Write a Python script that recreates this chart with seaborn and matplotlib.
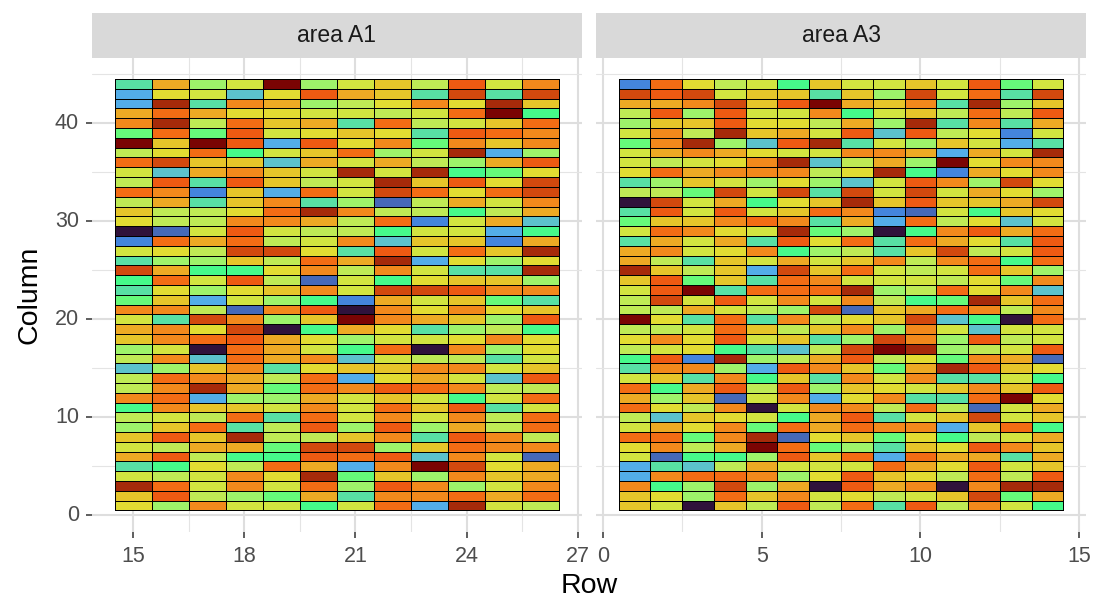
import matplotlib
matplotlib.use("Agg")
import matplotlib.pyplot as plt
from matplotlib.colors import ListedColormap
import pandas as pd
import seaborn as sns

# letters are colour levels, low to high
level_order = "abBcdefghijklmnopqrs"
level_colors = ["#30123B", "#4669B8", "#4485DD", "#53ADE8", "#5CC2CC", "#58E0A4", "#46FA8A",
                "#66FA7A", "#9EF36A", "#BFEA55", "#D2E440", "#E2DC32", "#E6C52A", "#EDAA24",
                "#F2891C", "#F36C14", "#EE5A12", "#D2490E", "#A62A0A", "#7A0403"]
levels = {c: i for i, c in enumerate(level_order)}

columns_y = list(range(44, 0, -1))
rows_a1 = list(range(15, 27))
rows_a3 = list(range(1, 15))

# each entry is one Column value (44 down to 1), one letter per Row
a1_left = ["emhjsh","ckjdkp","crenmh","momkkj","nriolm","gogpjk","slspcp","ikofjl","oqlldm","jdmnlj",
           "ipepli","onBlco","imelne","liikor","kiinnm","abjpji","Bomoij","jkiqqk","ehhlio","qmffkn",
           "fojpib","ekhkln","glcjhf","nnibnp","jeqnhl","mnkqaf","lnopmk","hjaomj","indomn","dhlnek",
           "ionmio","inrmgo","nochhm","fnlljn","ijioeo","hloeip","lplrii","jimmgq","mpiffp","efkiom",
           "jijnkr","rojnjo","lpihgm","khnjjf"]
a1_right = ["jlipjn","mleqeq","iknkrl","jijosf","eoijlo","lkepon","kngnln","ohjrch","jmihmp","rjrfgk",
            "jrlpkq","jqokoq","hbimjn","niifim","ioBjmd","ifjjcf","ndllBm","epjolr","mrckhk","injeer",
            "jfkllh","jqqpnn","Bmjlge","anknkl","snmlhp","mkehif","hjjknk","foanhk","djiiej","llnnjl",
            "ckmjdp","nponii","jljfjo","jolpej","jnjnio","hphmio","lnepni","qhlonn","opdnjb","cnsqkm",
            "glhnlm","hpnhjn","ennomo","jocrji"]
a3_left = ["Bokijfl","qpqjlle","mmnqlps","iphpjjn","hllpkki","jnirlmj","gnrhdpr","jmnmkjj","jijknrd","komnnni",
           "ehljhkh","iigqjqe","aqjmfkl","epjpjlo","gllnone","jonkjrg","emjmepk","mnjknfh","mieljmj","rlilcql",
           "lpgleon","jpseooo","iqjpjnj","iimjihq","skeoeni","iijolil","knkpjle","ijkfedi","fpBrhim","ennhcpn",
           "jlenfle","ofmpiph","mhlbjnc","okinajn","idlkjfm","jmkngom","oognrbk","knimsog","jbffhpl","cedimjj",
           "cnoonhk","nfhqhma","lkholnj","ljalipi"]
a3_right = ["jjljpgj","lhqjoeq","mlnerhl","fjlioip","mhrenem","pdpikBj","ejhljce","nnmcmjr","imhsknn","krfBmkn",
            "djpnhqk","qjqjmkh","rlpllmq","nBbjflk","mcoikdj","hafnpmo","oeomkep","ielqijp","lninofo","ojijolh",
            "jjjikgn","rhioknd","nifgrlo","blmonin","klqdfao","nhnjdjj","hqnhpij","qsrhijp","pikgnmb","lgmrplk",
            "njneejf","lkjlnlp","kneeosk","nioibjm","pejlqjl","onnclof","lgkfijm","helkpnl","ocommem","jomkpjl",
            "plkioip","pmnanrr","kijlqgm","oepinjf"]


def grid_from(left, right, rows):
    vals = [[levels[c] for c in l + r] for l, r in zip(left, right)]
    return pd.DataFrame(vals, index=columns_y, columns=rows).sort_index()


df_a1 = grid_from(a1_left, a1_right, rows_a1)
df_a3 = grid_from(a3_left, a3_right, rows_a3)

sns.set_theme(style="white")
plt.rcParams["font.family"] = ["Liberation Sans", "DejaVu Sans"]

W, H = 1093, 602
fig = plt.figure(figsize=(W / 100, H / 100), dpi=100)
cmap = ListedColormap(level_colors)


def axes_px(x0, x1, y0, y1, **kw):
    return fig.add_axes([x0 / W, 1 - y1 / H, (x1 - x0) / W, (y1 - y0) / H], **kw)


panels = [
    (df_a1, (92.3, 581.5), (13.9, 27.1), [15, 18, 21, 24, 27], [16.5, 19.5, 22.5, 25.5], "area A1", True),
    (df_a3, (596.5, 1085.5), (-0.2, 15.2), [0, 5, 10, 15], [2.5, 7.5, 12.5], "area A3", False),
]
yticks = [0, 10, 20, 30, 40]
yminor = [5, 15, 25, 35, 45]

for df, (x0, x1), (xa, xb), xt, xm, title, show_y in panels:
    ax = axes_px(x0, x1, 57.5, 532)
    xoff = df.columns[0] - 0.5
    sns.heatmap(df, ax=ax, cmap=cmap, vmin=-0.5, vmax=19.5, cbar=False,
                linewidths=0.7, linecolor="black")
    ax.set_xlim(xa - xoff, xb - xoff)
    ax.set_ylim(-1.7 - 0.5, 46.7 - 0.5)
    ax.set_xticks([v - xoff for v in xt], [str(v) for v in xt])
    ax.set_xticks([v - xoff for v in xm], minor=True)
    ax.set_yticks([v - 0.5 for v in yticks], [str(v) for v in yticks] if show_y else [])
    ax.set_yticks([v - 0.5 for v in yminor], minor=True)
    ax.tick_params(axis="x", which="major", length=4.5, width=1.1, color="#333333", labelsize=15.5,
                   labelcolor="#4D4D4D", pad=5.5, rotation=0, bottom=True)
    ax.tick_params(axis="y", which="major", length=4.5 if show_y else 0, width=1.1, color="#333333",
                   labelsize=15.5, labelcolor="#4D4D4D", pad=5, rotation=0, left=True)
    ax.tick_params(which="minor", length=0)
    ax.set_axisbelow(True)
    ax.grid(True, which="major", color="#DEDEDE", linewidth=1.5)
    ax.grid(True, which="minor", color="#E4E4E4", linewidth=0.8)
    ax.set_xlabel("")
    ax.set_ylabel("")
    for s in ax.spines.values():
        s.set_visible(False)
    strip = axes_px(x0, x1, 13, 57.5, facecolor="#D9D9D9")
    strip.set_xticks([])
    strip.set_yticks([])
    for s in strip.spines.values():
        s.set_visible(False)
    strip.text(0.5, 0.5, title, ha="center", va="center", fontsize=16.5, color="#1A1A1A",
               transform=strip.transAxes)

fig.text(589 / W, 1 - 586 / H, "Row", ha="center", va="center", fontsize=20.5, color="black")
fig.text(30 / W, 1 - 295 / H, "Column", ha="center", va="center", rotation=90, fontsize=20.5, color="black")
fig.savefig("out.png", dpi=100, facecolor="white")
